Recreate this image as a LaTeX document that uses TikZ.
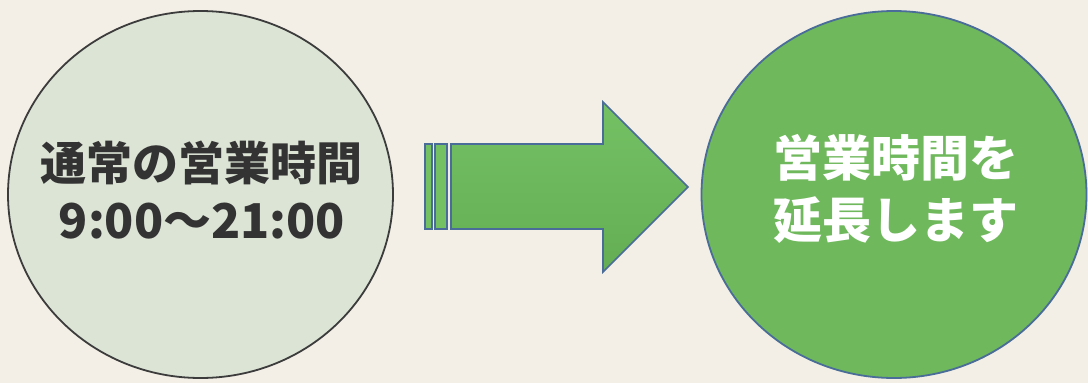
\documentclass[tikz,border=0pt]{standalone}
\usepackage{fontspec}
\newfontfamily\jp{Noto Sans CJK JP}
\usetikzlibrary{shapes.geometric}
\definecolor{paper}{HTML}{F3EFE6}
\definecolor{lightfill}{HTML}{DCE4D6}
\definecolor{darkline}{HTML}{3C3C3C}
\definecolor{greenfill}{HTML}{6FB85C}
\definecolor{blueline}{HTML}{4A6C98}
\definecolor{arrowlight}{HTML}{74C164}
\definecolor{arrowdark}{HTML}{64AD53}
\definecolor{textdark}{HTML}{333333}
\tikzset{
  bubble/.style={ellipse, inner sep=0pt, minimum width=385pt, minimum height=367pt, line width=1.8pt},
  bubbletext/.style={align=center, inner sep=0pt, font=\jp\bfseries},
  stripe/.style={fill=arrowlight, draw=blueline, line width=1.6pt},
  arrowbody/.style={top color=arrowlight, bottom color=arrowdark, draw=blueline, line width=1.6pt, line join=miter}
}
\begin{document}
\begin{tikzpicture}[x=1pt,y=-1pt]
\fill[paper] (0,0) rectangle (1088,383);
\useasboundingbox (0,0) rectangle (1088,383);
% circles
\node[bubble, fill=lightfill, draw=darkline] (L) at (200.5,194.5) {};
\node[bubble, fill=greenfill, draw=blueline] (R) at (894,194.5) {};
% texts
\node[bubbletext, text=textdark, font=\jp\bfseries\fontsize{46}{58}\selectfont] (Lt) at (202,190)
  {通常の営業時間\\{\fontsize{48}{58}\selectfont 9:00～21:00}};
\node[bubbletext, text=white, font=\jp\bfseries\fontsize{49}{62}\selectfont] (Rt) at (896,189)
  {営業時間を\\延長します};
% arrow
\coordinate (s1a) at (425,144); \coordinate (s1b) at (432,229);
\coordinate (s2a) at (435,144); \coordinate (s2b) at (447,229);
\draw[stripe] (s1a) rectangle (s1b);
\draw[stripe] (s2a) rectangle (s2b);
\coordinate (b1) at (451,144);
\coordinate (b2) at (603,144);
\coordinate (h1) at (603,102);
\coordinate (tip) at (688,187);
\coordinate (h2) at (603,272);
\coordinate (b3) at (603,229);
\coordinate (b4) at (451,229);
\draw[arrowbody] (b1) -- (b2) -- (h1) -- (tip) -- (h2) -- (b3) -- (b4) -- cycle;
\end{tikzpicture}
\end{document}
